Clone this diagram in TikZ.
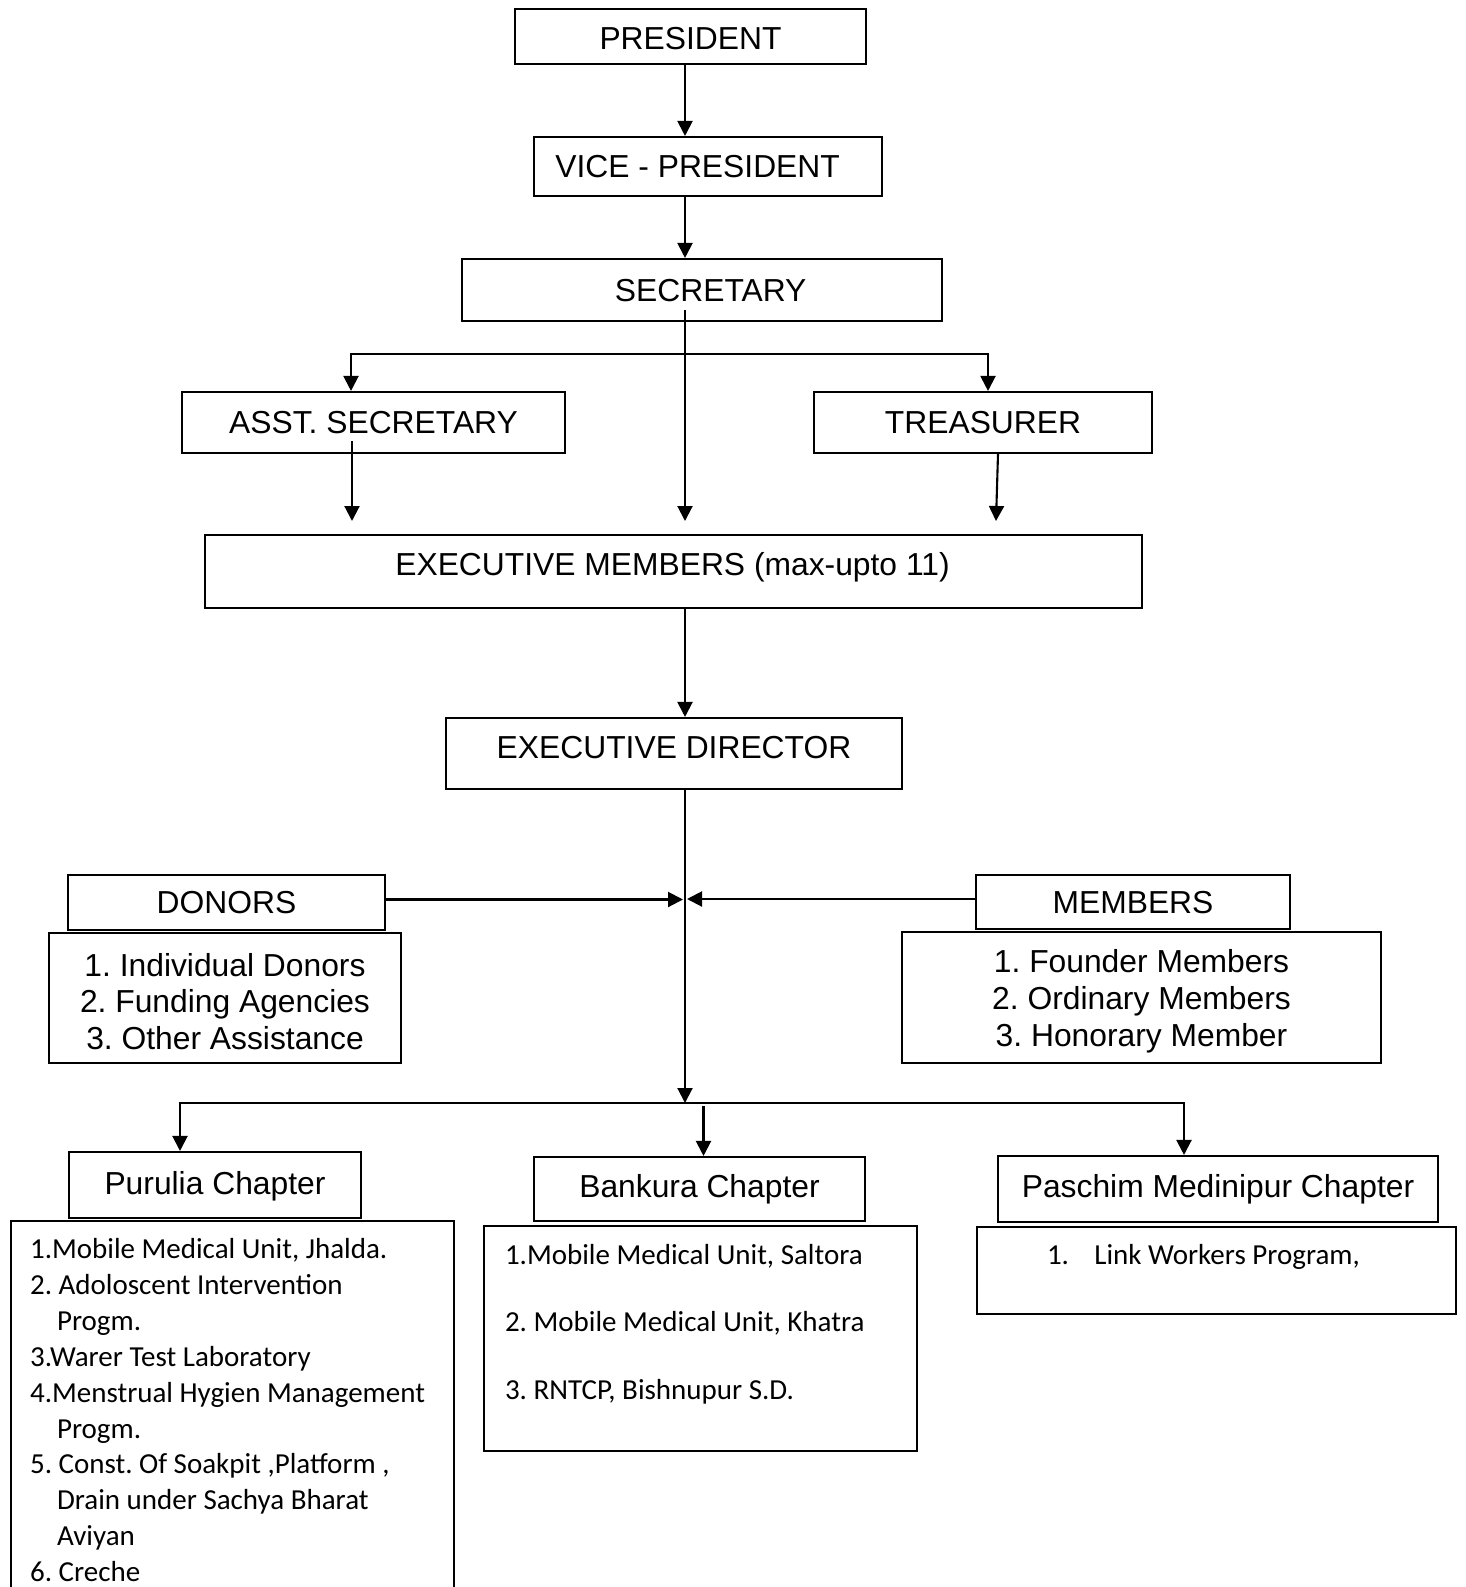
\documentclass[tikz,border=0pt]{standalone}
\usepackage{fontspec}
\setmainfont{Liberation Sans}
\newfontfamily\calibrifam{Carlito}
\usetikzlibrary{arrows.meta}
\frenchspacing

\newcommand{\orgfont}{\fontsize{31.8pt}{36.8pt}\selectfont}
\newcommand{\calfont}{\calibrifam\fontsize{29pt}{35.86pt}\selectfont}
\newcommand{\nudge}[3]{\raisebox{#2}{\kern#1\relax#3\kern-#1\relax}}

\begin{document}
\begin{tikzpicture}[x=1pt,y=-1pt,line width=2.1pt,>={Triangle[length=15pt,width=15pt]}]
		\tikzstyle{unit}=[draw,shape=rectangle,inner sep=0pt,font=\orgfont,text height=22.8pt,text depth=0pt]
		\tikzstyle{listbox}=[draw,shape=rectangle,inner sep=0pt]

		\clip (0,0) rectangle (1465,1587);

		% top of the chain
		\node[unit,minimum width=351pt,minimum height=55pt](pres) at (690.5,36.5){\nudge{0pt}{-1.5pt}{PRESIDENT}};
		\node[unit,minimum width=348pt,minimum height=59pt](vice) at (708,166.5){\nudge{-10.4pt}{0pt}{VICE - PRESIDENT}};
		\node[unit,minimum width=480pt,minimum height=62pt](sec) at (702,290){\nudge{8.7pt}{0pt}{SECRETARY}};
		\node[unit,minimum width=383pt,minimum height=61pt](asst) at (373.5,422.5){ASST. SECRETARY};
		\node[unit,minimum width=338pt,minimum height=61pt](treas) at (983,422.5){TREASURER};
		\node[unit,minimum width=937pt,minimum height=73pt](exec) at (673.5,571.5){\nudge{-1pt}{7.5pt}{EXECUTIVE MEMBERS (max-upto 11)}};
		\node[unit,minimum width=456pt,minimum height=71pt](dir) at (674,753.5){\nudge{0pt}{6.5pt}{EXECUTIVE DIRECTOR}};

		\coordinate (spine) at (685,0);
		\coordinate (fork) at (685,354);
		\coordinate (exectop) at (0,521);
		\coordinate (hub) at (685,1103);

		\draw[->] (pres.south -| spine) -- (vice.north -| spine);
		\draw[->] (vice.south -| spine) -- (sec.north -| spine);
		\draw[->] ([yshift=12pt]sec.south -| spine) -- (exectop -| spine);
		\draw[->] (fork) -| ([xshift=-22.5pt]asst.north);
		\draw[->] (fork) -| ([xshift=5pt]treas.north);
		\draw[->] ([xshift=-21.5pt,yshift=13pt]asst.south) -- ([xshift=-21.5pt]asst.south |- exectop);
		\draw[->] ([xshift=15pt]treas.south) -- ([xshift=13pt]treas.south |- exectop);
		\draw[->] (exec.south -| spine) -- (dir.north -| spine);

		% donors and members
		\node[unit,minimum width=317pt,minimum height=55pt](donors) at (226.5,902.5){DONORS};
		\node[listbox,minimum width=352pt,minimum height=130pt](donlist) at (225,998){};
		\node[font=\orgfont,align=center,inner sep=0pt](dontext) at ([yshift=-3.5pt]donlist.center){1. Individual Donors\\2. Funding Agencies\\3. Other Assistance};
		\node[unit,minimum width=314pt,minimum height=54pt](members) at (1133,902){MEMBERS};
		\node[listbox,minimum width=479pt,minimum height=131pt](memlist) at (1141.5,997.5){};
		\node[font=\orgfont,align=center,inner sep=0pt](memtext) at ([yshift=-3.5pt]memlist.center){1. Founder Members\\2. Ordinary Members\\3. Honorary Member};

		\draw[->] (dir.south -| spine) -- (hub);
		\draw[->] ([yshift=3pt]donors.east) -- ([xshift=-2pt,yshift=3pt]donors.east -| spine);
		\draw[->] ([yshift=3pt]members.west) -- ([xshift=2pt,yshift=3pt]members.west -| spine);

		% chapters
		\node[unit,minimum width=292pt,minimum height=66pt](purulia) at (215,1185){\nudge{0pt}{2pt}{Purulia Chapter}};
		\node[unit,minimum width=331pt,minimum height=64pt](bankura) at (699.5,1189){\nudge{0pt}{3pt}{Bankura Chapter}};
		\node[unit,minimum width=440pt,minimum height=66pt](paschim) at (1218,1189){\nudge{0pt}{3pt}{Paschim Medinipur Chapter}};

		\draw[->] (hub) -| ([xshift=-35pt]purulia.north);
		\draw[->] (hub) -| ([xshift=-34pt]paschim.north);
		\draw[->] ([xshift=4pt,yshift=-3pt]bankura.north |- hub) -- ([xshift=4pt]bankura.north);

		\node[listbox,minimum width=443pt,minimum height=420pt,anchor=north west](purlist) at (10,1220){};
		\node[anchor=north west,inner sep=0pt,align=left,font=\calfont](purtext) at ([shift={(19pt,-17.5pt)}]purlist.north west){1.Mobile Medical Unit, Jhalda.\\2. Adoloscent Intervention\\\hspace*{27pt}Progm.\\3.Warer Test Laboratory\\4.Menstrual Hygien Management\\\hspace*{27pt}Progm.\\5. Const. Of Soakpit ,Platform ,\\\hspace*{27pt}Drain under Sachya Bharat\\\hspace*{27pt}Aviyan\\6. Creche};

		\node[listbox,minimum width=433pt,minimum height=225pt](banklist) at (700.5,1338.5){};
		\node[anchor=north west,inner sep=0pt,align=left,font=\calibrifam\fontsize{29pt}{67.3pt}\selectfont](banktext) at ([shift={(21pt,-18.5pt)}]banklist.north west){1.Mobile Medical Unit, Saltora\\2. Mobile Medical Unit, Khatra\\3. RNTCP, Bishnupur S.D.};

		\node[listbox,minimum width=479pt,minimum height=87pt](paslist) at (1216.5,1270.5){};
		\node[anchor=north west,inner sep=0pt,font=\calfont](pastext) at ([shift={(70pt,-17pt)}]paslist.north west){1.\hspace{25.4pt}Link Workers Program,};
	\end{tikzpicture}
\end{document}
